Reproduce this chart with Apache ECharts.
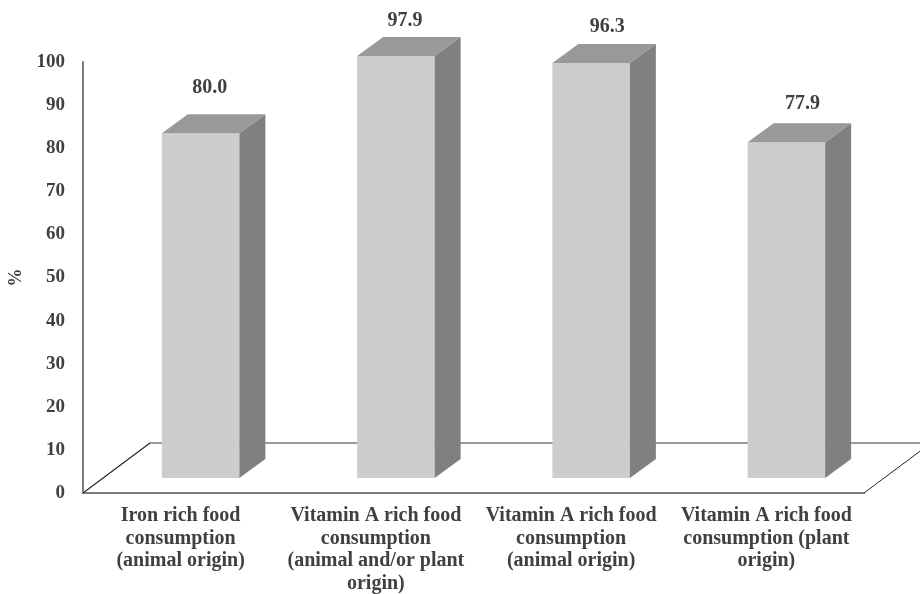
<!DOCTYPE html>
<html><head><meta charset="utf-8">
<style>html,body{margin:0;padding:0;background:#fff}#c{width:920px;height:594px}</style>
<script src="https://cdn.jsdelivr.net/npm/echarts@6/dist/echarts.min.js"></script>
</head><body><div id="c"></div>
<script>
const categories = [
  "Iron rich food\nconsumption\n(animal origin)",
  "Vitamin A rich food\nconsumption\n(animal and/or plant\norigin)",
  "Vitamin A rich food\nconsumption\n(animal origin)",
  "Vitamin A rich food\nconsumption (plant\norigin)"
];
const values = [80.0, 97.9, 96.3, 77.9];
const yTicks = [0,10,20,30,40,50,60,70,80,90,100];
const labelLift = [45, 35, 36, 38];
const labelShift = [9, 9, 16, 16];

const FONT = '"Liberation Serif", serif';
const chart = echarts.init(document.getElementById('c'), null, {renderer:'canvas'});
const barOffset = 20, barW = 77.5, baseUp = 15, depthX = 26, depthY = 19;
const floorDX = 67, floorDY = 50;

function renderBar(params, api){
  const i = api.value(0), v = api.value(1);
  const top = api.coord([i, v]), base = api.coord([i, 0]);
  const x0 = top[0] + barOffset - barW/2, x1 = x0 + barW;
  const yT = top[1] - baseUp, yB = base[1] - baseUp;
  return {type:'group', children:[
    {type:'rect', shape:{x:x0,y:yT,width:barW,height:yB-yT}, style:{fill:'#cdcdcd'}},
    {type:'polygon', shape:{points:[[x1,yT],[x1+depthX,yT-depthY],[x1+depthX,yB-depthY],[x1,yB]]}, style:{fill:'#808080'}},
    {type:'polygon', shape:{points:[[x0,yT],[x0+depthX,yT-depthY],[x1+depthX,yT-depthY],[x1,yT]]}, style:{fill:'#999999'}},
    {type:'text', style:{x:(x0+x1)/2+labelShift[params.dataIndex], y:yT-labelLift[params.dataIndex],
      text:v.toFixed(1), align:'center', verticalAlign:'middle',
      font:'bold 20px '+FONT, fill:'#404040'}}
  ]};
}
function renderFloor(params, api){
  const a = api.coord([0,0]), size = api.size([1,0]);
  const left = a[0]-size[0]/2, right = left + size[0]*categories.length, y = a[1];
  return {type:'group', silent:true, children:[
    {type:'polyline', shape:{points:[[left,y],[left+floorDX,y-floorDY],[right+floorDX,y-floorDY]]}, style:{fill:null,stroke:'#7a7a7a',lineWidth:1.5}},
    {type:'line', shape:{x1:left,y1:y,x2:left+floorDX,y2:y-floorDY}, style:{stroke:'#222',lineWidth:1}},
    {type:'line', shape:{x1:right,y1:y,x2:right+floorDX,y2:y-floorDY}, style:{stroke:'#222',lineWidth:1}}
  ]};
}
chart.setOption({
  animation:false,
  backgroundColor:'#fff',
  grid:{left:83,top:62,width:781,height:431,containLabel:false,outerBoundsMode:'none'},
  xAxis:{type:'category',data:categories,
    axisLine:{lineStyle:{color:'#7a7a7a',width:2}},axisTick:{show:false},
    axisLabel:{interval:0,margin:12,lineHeight:22.5,color:'#404040',fontFamily:FONT,fontWeight:'bold',fontSize:20}},
  yAxis:{type:'value',min:0,max:100,interval:10,
    name:'%',nameLocation:'middle',nameGap:54,nameRotate:90,
    nameTextStyle:{color:'#404040',fontFamily:FONT,fontWeight:'bold',fontSize:18},
    axisLine:{show:true,lineStyle:{color:'#7a7a7a',width:2}},axisTick:{show:false},splitLine:{show:false},
    axisLabel:{margin:18,color:'#404040',fontFamily:FONT,fontWeight:'bold',fontSize:19,
      formatter:v=>yTicks.includes(v)?String(v):''}},
  series:[
    {type:'custom',coordinateSystem:'cartesian2d',clip:false,z:1,data:[[0,0]],renderItem:renderFloor,silent:true,encode:{x:0,y:1}},
    {type:'custom',coordinateSystem:'cartesian2d',clip:false,z:2,data:values.map((v,i)=>[i,v]),renderItem:renderBar,encode:{x:0,y:1}}
  ]
});
</script></body></html>
